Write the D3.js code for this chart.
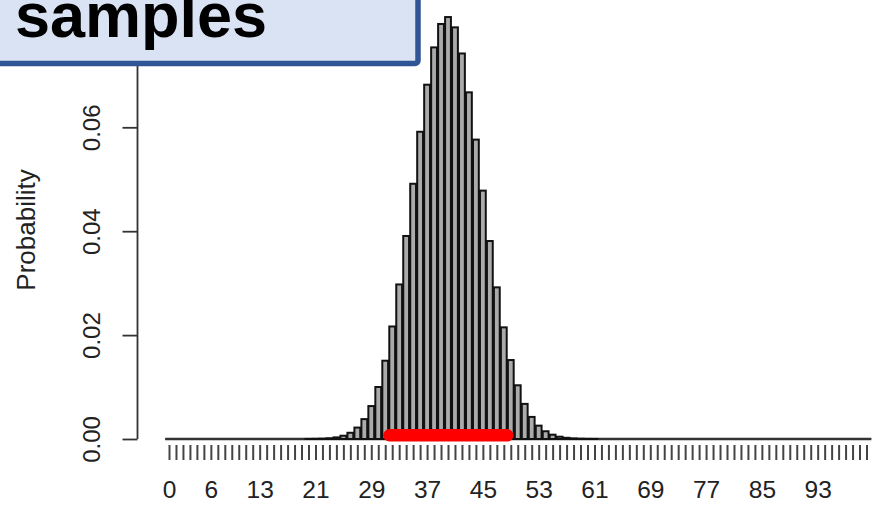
<!DOCTYPE html>
<html>
<head>
<meta charset="utf-8">
<script src="https://cdn.jsdelivr.net/npm/d3@7"></script>
<style>
  html, body { margin: 0; padding: 0; background: #fff; }
  svg { display: block; }
  text { font-family: "Liberation Sans", Arial, Helvetica, sans-serif; }
</style>
</head>
<body>
<svg id="chart" width="882" height="513"></svg>
<script>
// Number of successes (0..100)
const counts = d3.range(0, 101);

// Probability of each count
const probabilities = [
  0, 0, 0, 0, 0, 0, 0, 0, 0, 0,
  0, 0, 0, 0, 0, 0, 0, 0, 0, 0,
  0.00001, 0.00003, 0.00006, 0.00014, 0.00031, 0.00063, 0.00120, 0.00220, 0.00383, 0.00634,
  0.01001, 0.01507, 0.02166, 0.02975, 0.03908, 0.04913, 0.05914, 0.06820, 0.07538, 0.07989,
  0.08122, 0.07924, 0.07421, 0.06673, 0.05763, 0.04781, 0.03811, 0.02919, 0.02149, 0.01520,
  0.01034, 0.00676, 0.00425, 0.00257, 0.00149, 0.00083, 0.00044, 0.00023, 0.00011, 0.00005,
  0.00002, 0.00001, 0, 0, 0, 0, 0, 0, 0, 0,
  0, 0, 0, 0, 0, 0, 0, 0, 0, 0,
  0, 0, 0, 0, 0, 0, 0, 0, 0, 0,
  0, 0, 0, 0, 0, 0, 0, 0, 0, 0,
  0
];

// Counts that carry a visible label on the x axis
const xTickLabels = [0, 6, 13, 21, 29, 37, 45, 53, 61, 69, 77, 85, 93];

// y axis ticks
const yTicks = [0, 0.02, 0.04, 0.06, 0.08];

// Highlighted range of counts (red band) and its height
const highlightRange = [31.6, 48.5];
const highlightLevel = 0.0007;

const titleText = "samples";
const yTitle = "Probability";

const svg = d3.select("#chart");

const x = d3.scaleLinear().domain([0, 100]).range([169, 866.5]);
const y = d3.scaleLinear().domain([0, 0.08]).range([439, 439 - 0.08 * 5195]);
const step = x(1) - x(0);
const barW = step / 1.2;

// y axis
const yAxis = d3.axisLeft(y)
  .tickValues(yTicks)
  .tickSize(15)
  .tickFormat(d3.format(".2f"));
const gy = svg.append("g")
  .attr("transform", "translate(137.5,0)")
  .call(yAxis);
gy.select(".domain").attr("stroke", "#333").attr("stroke-width", 1.8)
  .attr("d", `M0,${y(0)}V${y(0.08)}`);
gy.selectAll(".tick line").attr("stroke", "#333").attr("stroke-width", 1.8);
gy.selectAll(".tick text")
  .attr("x", 0).attr("y", 0)
  .attr("dy", 0)
  .attr("transform", "translate(-37.5,0) rotate(-90)")
  .attr("text-anchor", "middle")
  .attr("fill", "#222")
  .style("font-size", "24px")
  .style("font-family", "'Liberation Sans', Arial, sans-serif");

svg.append("text")
  .attr("transform", "translate(35,230) rotate(-90)")
  .attr("text-anchor", "middle")
  .attr("fill", "#222")
  .style("font-size", "26px")
  .text(yTitle);

// x axis: a tick under every bar, labels on selected counts
const xAxis = d3.axisBottom(x)
  .tickValues(counts)
  .tickSize(15)
  .tickFormat(d => xTickLabels.includes(d) ? String(d) : "");
const gx = svg.append("g")
  .attr("transform", "translate(0,445)")
  .call(xAxis);
gx.select(".domain").remove();
gx.selectAll(".tick line").attr("stroke", "#444").attr("stroke-width", 2);
gx.selectAll(".tick text")
  .attr("y", 0).attr("dy", 0)
  .attr("transform", "translate(0,53)")
  .attr("fill", "#222")
  .style("font-size", "24.5px")
  .style("font-family", "'Liberation Sans', Arial, sans-serif");

// baseline formed by the zero-height bars
svg.append("line")
  .attr("x1", x(0) - barW / 2 - 1).attr("x2", x(100) + barW / 2 + 2)
  .attr("y1", y(0)).attr("y2", y(0))
  .attr("stroke", "#333").attr("stroke-width", 2.4);

// bars
svg.append("g")
  .selectAll("rect")
  .data(counts)
  .join("rect")
  .attr("x", d => x(d) - barW / 2)
  .attr("width", barW)
  .attr("y", d => y(probabilities[d]))
  .attr("height", d => y(0) - y(probabilities[d]))
  .attr("fill", "#ababab")
  .attr("stroke", "#111")
  .attr("stroke-width", 2);

// highlighted range
svg.append("line")
  .attr("x1", x(highlightRange[0])).attr("x2", x(highlightRange[1]))
  .attr("y1", y(highlightLevel)).attr("y2", y(highlightLevel))
  .attr("stroke", "#ff0000")
  .attr("stroke-width", 12.5)
  .attr("stroke-linecap", "round");

// title box
svg.append("rect")
  .attr("x", -20).attr("y", -20)
  .attr("width", 438).attr("height", 83.5)
  .attr("rx", 3)
  .attr("fill", "#dae3f3")
  .attr("stroke", "#2f5597")
  .attr("stroke-width", 5.5);

svg.append("text")
  .attr("x", 15).attr("y", 36.5)
  .attr("fill", "#000")
  .style("font-size", "63px")
  .style("font-weight", "bold")
  .text(titleText);
</script>
</body>
</html>
